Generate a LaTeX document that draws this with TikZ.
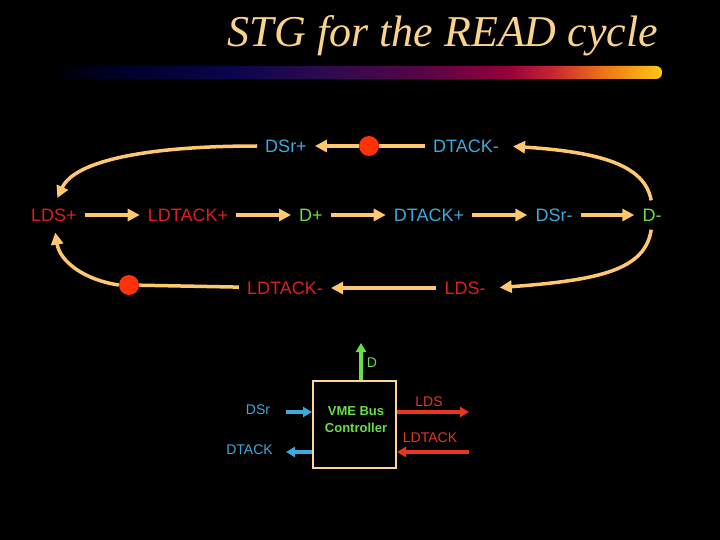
\documentclass[tikz,border=0pt]{standalone}
\usepackage{fontspec}
\setmainfont{Liberation Serif}
\setsansfont{Liberation Sans}
\usetikzlibrary{arrows.meta}

\definecolor{titleorange}{RGB}{250,210,140}
\definecolor{arcorange}{RGB}{255,200,110}
\definecolor{lblblue}{RGB}{60,170,222}
\definecolor{lblred}{RGB}{222,30,30}
\definecolor{lblgreen}{RGB}{105,222,70}
\definecolor{tokenred}{RGB}{255,50,10}
\definecolor{boxpeach}{RGB}{255,212,155}
\definecolor{wirered}{RGB}{228,55,30}
\definecolor{barA}{RGB}{0,0,40}
\definecolor{barB}{RGB}{10,5,75}
\definecolor{barC}{RGB}{45,10,80}
\definecolor{barD}{RGB}{85,5,70}
\definecolor{barE}{RGB}{150,0,60}
\definecolor{barF}{RGB}{200,40,50}
\definecolor{barG}{RGB}{235,110,25}
\definecolor{barH}{RGB}{255,200,20}
\pgfdeclarehorizontalshading{barshading}{100bp}{color(0bp)=(black); color(25bp)=(black);
  color(30.7bp)=(barA); color(39.7bp)=(barB); color(47.3bp)=(barC); color(55.2bp)=(barD);
  color(62.4bp)=(barE); color(66.2bp)=(barF); color(69.9bp)=(barG); color(75bp)=(barH);
  color(100bp)=(barH)}

\begin{document}
\begin{tikzpicture}[x=1pt,y=-1pt,
  sig/.style={font=\sffamily\fontsize{18}{20}\selectfont, text height=13pt, text depth=0pt,
    inner xsep=8pt, inner ysep=3pt},
  sigblue/.style={sig, text=lblblue},
  sigred/.style={sig, text=lblred},
  siggreen/.style={sig, text=lblgreen},
  token/.style={circle, fill=tokenred, minimum size=20pt, inner sep=0pt},
  plainarc/.style={draw=arcorange, line width=3.5pt},
  arc/.style={plainarc, -{Triangle[length=12pt,width=12pt]}},
  port/.style={font=\sffamily\fontsize{14}{16}\selectfont},
  wire/.style={line width=4pt, -{Triangle[length=9pt,width=10pt]}}]
\fill[black] (0,0) rectangle (720,540);
\useasboundingbox (0,0) rectangle (720,540);

\node[anchor=base, font=\itshape\fontsize{44}{50}\selectfont, text=titleorange] (title) at (443,47) {STG for the READ cycle};
\shade[shading=barshading, rounded corners=6pt] (50,66) rectangle (662,79);

\node[sigblue] (11) at (286,146) {DSr+};
\node[token] (12) at (369,146) {};
\node[sigblue] (13) at (466,146) {DTACK-};

\node[sigred] (21) at (54,215) {LDS+};
\node[sigred] (22) at (188,215) {LDTACK+};
\node[siggreen] (23) at (311,215) {D+};
\node[sigblue] (24) at (429,215) {DTACK+};
\node[sigblue] (25) at (554,215) {DSr-};
\node[siggreen] (26) at (652,215) {D-};

\node[token] (31) at (129,285) {};
\node[sigred] (32) at (285,288) {LDTACK-};
\node[sigred] (33) at (465,288) {LDS-};

\draw[arc] (21) -- (22);
\draw[arc] (22) -- (23);
\draw[arc] (23) -- (24);
\draw[arc] (24) -- (25);
\draw[arc] (25) -- (26);
\draw[plainarc] (13) -- (12);
\draw[arc] (12) -- (11);
\draw[arc] (33) -- (32);
\draw[plainarc] (32) -- (31);
\draw[arc, shorten >=8pt] (11.west) .. controls (150,146) and (75,160) .. (21.north);
\draw[arc, shorten >=8pt] (31.west) .. controls (85,280) and (60,262) .. (21.south);
\draw[arc, shorten <=5pt, shorten >=6pt] (26.north) .. controls (645,165) and (600,152) .. (13.east);
\draw[arc, shorten <=5pt, shorten >=6pt] (26.south) .. controls (645,270) and (600,280) .. (33.east);

\node[draw=boxpeach, line width=2pt, minimum width=83pt, minimum height=87pt] (vme) at (354.5,424.5) {};
\node[font=\sffamily\bfseries\fontsize{13}{17}\selectfont, text=lblgreen, align=center] (vmetext) at (356,420) {VME Bus\\Controller};

\coordinate (dtip) at (361,343);
\coordinate (dsrin) at (286,412);
\coordinate (dtackout) at (286,452);
\coordinate (ldsout) at (469,412);
\coordinate (ldtackin) at (469,452);
\draw[wire, color=lblgreen] (vme.north -| dtip) -- (dtip);
\draw[wire, color=lblblue] (dsrin) -- (dsrin -| vme.west);
\draw[wire, color=lblblue] (dtackout -| vme.west) -- (dtackout);
\draw[wire, color=wirered] (ldsout -| vme.east) -- (ldsout);
\draw[wire, color=wirered] (ldtackin) -- (ldtackin -| vme.east);

\node[port, text=lblgreen] (dlabel) at (372,363) {D};
\node[port, text=lblblue] (dsrlabel) at (258,410) {DSr};
\node[port, text=lblblue] (dtacklabel) at (249.5,450) {DTACK};
\node[port, text=wirered] (ldslabel) at (429,402) {LDS};
\node[port, text=wirered] (ldtacklabel) at (430,438) {LDTACK};
\end{tikzpicture}
\end{document}
